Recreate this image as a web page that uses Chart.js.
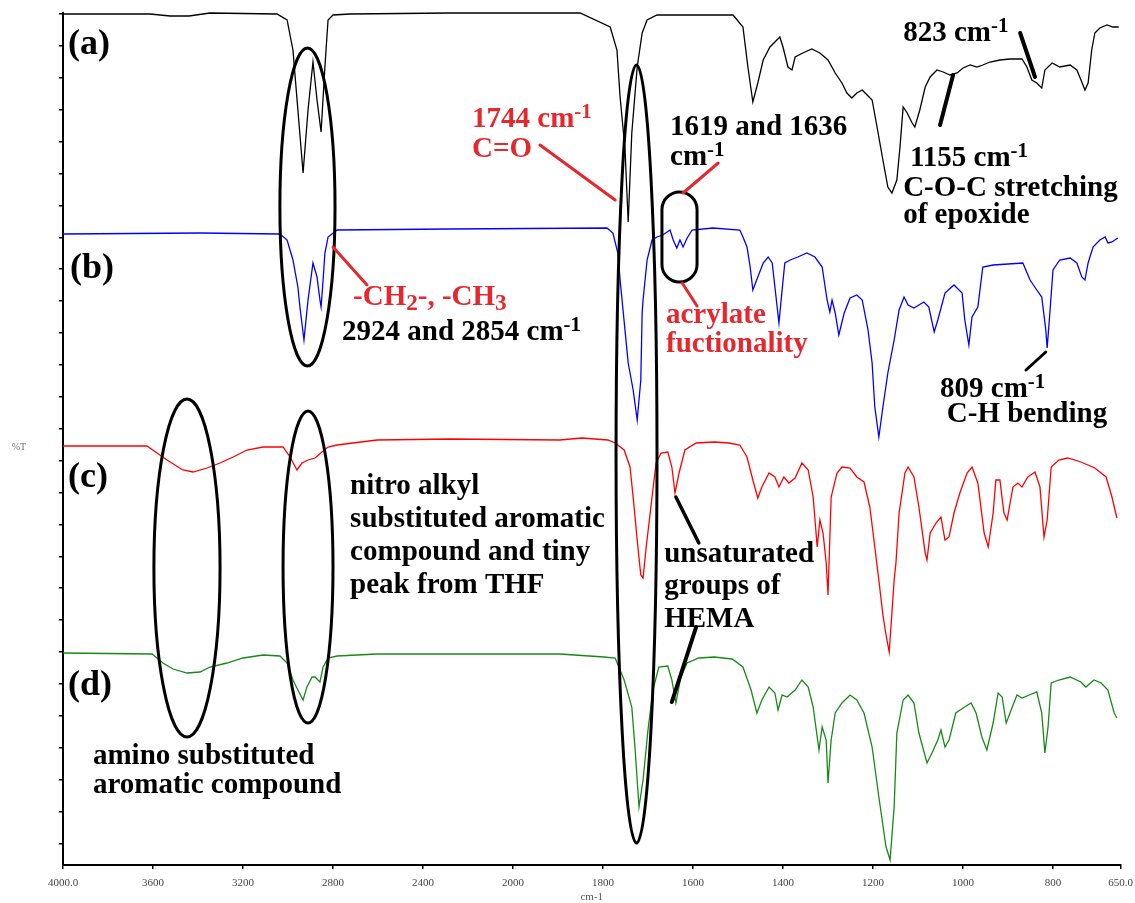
<!DOCTYPE html>
<html>
<head>
<meta charset="utf-8">
<script src="https://cdn.jsdelivr.net/npm/chart.js@4.4.1/dist/chart.umd.min.js"></script>
<style>
  html, body { margin: 0; padding: 0; background: #fff; }
  canvas { display: block; }
</style>
</head>
<body>
<canvas id="ftir" width="1135" height="903"></canvas>
<script>
// ================================
// Datos
// ================================
// eje x: numero de onda (cm-1), eje y: %T desplazado por muestra
const tickWn = [4000, 3600, 3200, 2800, 2400, 2000, 1800, 1600, 1400, 1200, 1000, 800, 650];
const tickLabels = ["4000.0", "3600", "3200", "2800", "2400", "2000", "1800", "1600", "1400", "1200", "1000", "800", "650.0"];

// (a)
const aWn = [4000,3613,3524,3440,3347,3049,3004,2978,2956,2933,2911,2889,2871,2853,2836,2822,2800,2724,2280,1851,1784,1769,1762,1751,1744,1736,1724,1713,1702,1680,1511,1489,1478,1467,1456,1444,1429,1407,1400,1389,1380,1373,1356,1336,1318,1300,1284,1269,1258,1247,1236,1224,1213,1202,1191,1178,1167,1158,1147,1140,1133,1124,1113,1107,1096,1084,1073,1058,1044,1029,1013,1000,984,969,956,940,918,896,869,858,847,836,825,818,802,785,762,747,736,729,722,714,707,696,680,667,654];
const aT = [85.1,85.1,84.9,84.9,85.2,85.1,84.5,81.5,75.5,69.2,75.5,80.3,76.5,73.3,79.8,84.5,85.0,85.1,85.2,85.2,83.8,81.5,76.8,71.5,64.3,73.2,79.8,83.2,84.5,85.0,85.0,83.8,79.8,76.3,78.2,80.5,81.8,82.8,81.8,79.8,79.5,80.8,81.2,81.6,81.2,80.5,79.2,78.2,77.2,76.7,77.2,77.5,77.0,76.5,73.8,70.5,67.8,67.2,68.5,71.8,75.8,75.2,74.2,73.8,75.5,77.8,78.8,79.5,79.3,79.0,79.2,79.7,80.0,79.8,80.0,80.3,80.5,80.6,80.6,79.8,78.5,78.2,77.7,79.5,80.2,79.8,80.0,79.5,78.3,77.5,78.2,81.5,83.2,83.7,84.0,83.8,83.8];

// (b)
const bWn = [4000,3391,3036,3004,2978,2956,2947,2929,2911,2889,2871,2858,2853,2844,2836,2822,2782,2280,1791,1778,1767,1762,1744,1733,1724,1716,1713,1711,1702,1691,1680,1667,1651,1644,1636,1629,1622,1613,1602,1556,1496,1489,1480,1473,1467,1456,1444,1433,1424,1418,1409,1402,1396,1384,1367,1347,1329,1313,1302,1296,1291,1284,1276,1264,1251,1236,1224,1211,1202,1196,1187,1178,1167,1153,1142,1131,1122,1109,1098,1087,1076,1064,1056,1040,1020,1002,996,987,980,967,956,933,867,851,836,825,816,813,807,800,785,762,747,736,729,722,711,696,684,678,669,656];
const bT = [63.1,63.2,63.1,62.5,60.5,57.8,55.8,52.5,56.5,60.2,58.8,56.5,55.8,58.5,61.2,62.8,63.5,63.6,63.7,63.2,61.2,58.5,50.2,47.5,44.5,48.5,55.2,56.5,60.5,62.5,62.8,63.0,63.5,62.5,61.7,62.5,61.8,62.7,63.5,63.7,63.5,62.8,61.8,59.8,57.5,58.8,60.2,60.8,60.2,57.8,54.2,57.5,60.2,60.5,60.8,61.2,60.8,59.8,56.5,55.3,56.5,55.2,53.0,55.2,56.7,57.0,56.5,53.5,50.2,45.8,42.8,45.8,49.2,52.5,55.5,56.8,56.0,55.7,56.0,56.3,55.8,53.3,54.5,57.2,58.0,57.2,54.5,52.0,54.8,55.8,59.8,60.0,60.2,58.5,57.5,56.8,53.5,51.7,55.2,59.5,60.5,60.7,60.2,58.8,58.5,60.2,61.8,62.5,62.8,62.2,62.3,62.7];

// (c)
const cWn = [4000,3627,3582,3538,3467,3422,3360,3302,3244,3182,3111,3022,2991,2960,2938,2911,2880,2849,2822,2782,2711,2604,2280,1896,1847,1789,1773,1753,1740,1733,1724,1716,1711,1704,1691,1682,1671,1656,1647,1640,1631,1618,1593,1553,1520,1496,1480,1467,1456,1447,1431,1418,1409,1398,1387,1373,1358,1344,1333,1324,1318,1311,1304,1300,1293,1280,1269,1251,1236,1220,1207,1196,1187,1178,1171,1164,1158,1153,1149,1142,1129,1122,1109,1098,1084,1080,1073,1060,1049,1040,1031,1020,1007,991,980,967,953,944,933,927,918,909,902,889,878,869,856,840,829,820,813,804,787,767,738,707,682,669,658];
const cT = [41.9,41.9,41.2,40.5,39.5,39.3,39.7,40.2,40.8,41.5,41.8,41.8,40.8,39.5,40.2,40.5,40.7,41.3,41.8,42.0,42.2,42.5,42.6,42.5,42.7,42.5,42.2,41.5,39.8,36.8,32.5,29.0,28.7,31.8,36.8,40.2,41.2,41.3,39.8,37.2,39.2,41.5,42.2,42.3,42.2,42.0,40.8,38.5,36.7,37.8,39.2,38.8,37.8,38.8,38.2,38.7,40.2,39.5,36.8,31.8,34.5,33.2,30.2,27.0,36.8,39.2,39.8,39.7,38.8,38.3,35.8,31.8,28.5,25.0,23.0,21.3,25.2,28.5,30.2,35.2,39.2,39.8,38.8,35.8,31.2,30.5,33.2,34.2,34.8,32.5,32.8,35.2,37.2,39.2,39.8,38.2,33.2,31.8,35.2,38.5,38.5,35.2,34.5,37.8,38.2,37.8,38.8,39.3,37.8,32.8,34.5,39.8,40.5,40.7,40.3,39.7,38.8,36.8,34.7];

// (d)
const dWn = [4000,3604,3556,3511,3449,3391,3347,3271,3200,3111,3036,3004,2978,2956,2933,2916,2893,2880,2858,2844,2822,2782,2604,1896,1798,1773,1753,1736,1729,1720,1711,1700,1689,1676,1656,1647,1638,1627,1613,1587,1553,1513,1489,1471,1458,1447,1431,1418,1411,1402,1391,1373,1358,1344,1333,1320,1313,1304,1300,1293,1284,1269,1251,1236,1220,1202,1187,1171,1162,1153,1147,1133,1122,1109,1098,1080,1069,1056,1049,1040,1031,1016,1000,982,971,958,947,933,922,913,904,893,880,869,853,836,825,818,811,804,787,762,738,727,709,693,678,664,658];
const dT = [21.2,21.1,20.2,19.6,19.2,19.3,19.8,20.2,20.7,21.0,20.9,20.2,18.5,17.5,16.5,17.8,18.8,18.8,18.3,19.8,20.7,20.9,21.1,21.1,20.8,20.7,18.5,15.8,11.8,5.8,8.5,13.5,17.5,19.8,19.9,18.5,16.2,18.8,20.2,20.7,20.8,20.6,19.8,17.5,15.2,16.5,17.8,17.2,15.5,17.0,16.8,17.5,18.5,17.8,15.8,11.5,13.8,12.5,8.2,12.5,15.2,16.2,17.0,16.5,15.2,11.8,6.8,1.8,0.5,5.8,13.2,16.5,17.0,16.2,13.2,10.2,11.2,12.5,13.5,11.8,12.5,15.2,15.7,16.2,15.2,12.8,11.5,14.2,17.2,16.8,14.2,15.5,17.0,16.7,17.0,17.3,15.2,11.2,13.8,18.2,18.5,18.8,18.3,17.8,18.5,18.2,17.5,15.2,14.7];

// ================================
// Anotaciones (en unidades de datos: cm-1, %T)
// ================================
// [wn izq, wn der, %T arriba, %T abajo, forma]
const rings = [
  [3036, 2791, 81.7, 49.9, "oval"],
  [1771, 1680, 80.0, 2.2, "oval"],
  [1669, 1591, 67.3, 58.3, "pill"],
  [3596, 3302, 46.6, 12.8, "oval"],
  [3022, 2800, 45.4, 14.2, "oval"]
];
// [wn1, %T1, wn2, %T2, color, grosor]
const pointers = [
  [1940, 72.0, 1773, 66.5, "#e4282e", 3],
  [1544, 70.2, 1622, 67.2, "#e4282e", 3],
  [1624, 58.2, 1591, 55.9, "#e4282e", 3],
  [2800, 61.8, 2649, 58.0, "#e4282e", 3],
  [873, 83.2, 840, 78.8, "#000", 4],
  [1051, 74.0, 1022, 79.0, "#000", 4],
  [816, 51.3, 860, 49.5, "#000", 3],
  [1638, 36.8, 1587, 32.2, "#000", 3.5],
  [1593, 23.8, 1647, 16.3, "#000", 4]
];
// [texto, wn, %T (linea base), color, tamano]
const notes = [
  ["(a)", 3978, 81.1, "#000", 36],
  ["(b)", 3969, 58.7, "#000", 36],
  ["(c)", 3978, 37.8, "#000", 36],
  ["(d)", 3978, 17.0, "#000", 36],
  ["1744 cm^{-1}", 2182, 73.8, "#e4282e", 29],
  ["C=O", 2182, 70.8, "#e4282e", 29],
  ["1619 and 1636", 1651, 73.0, "#000", 29],
  ["cm^{-1}", 1651, 70.0, "#000", 29],
  ["823 cm^{-1}", 1133, 82.4, "#000", 29],
  ["1155 cm^{-1}", 1118, 69.9, "#000", 29],
  ["C-O-C stretching", 1133, 66.9, "#000", 29],
  ["of epoxide", 1133, 64.2, "#000", 29],
  ["-CH_{2}-, -CH_{3}", 2711, 56.0, "#e4282e", 29],
  ["2924 and 2854 cm^{-1}", 2760, 52.5, "#000", 29],
  ["acrylate", 1660, 54.2, "#e4282e", 29],
  ["fuctionality", 1660, 51.3, "#e4282e", 29],
  ["809 cm^{-1}", 1051, 46.8, "#000", 29],
  ["C-H bending", 1036, 44.3, "#000", 29],
  ["nitro alkyl", 2724, 37.1, "#000", 29],
  ["substituted aromatic", 2724, 33.8, "#000", 29],
  ["compound and tiny", 2724, 30.5, "#000", 29],
  ["peak from THF", 2724, 27.2, "#000", 29],
  ["unsaturated", 1664, 30.3, "#000", 29],
  ["groups of", 1664, 27.1, "#000", 29],
  ["HEMA", 1664, 23.8, "#000", 29],
  ["amino substituted", 3867, 10.1, "#000", 29],
  ["aromatic compound", 3867, 7.2, "#000", 29]
];

// ================================
// Utilidades
// ================================
// eje partido: 4000-2000 comprimido a la mitad, 2000-650 a escala completa
function toPos(wn) {
  return wn >= 2000 ? (4000 - wn) / 2 : 1000 + (2000 - wn);
}
function zip(wn, t) {
  const n = Math.min(wn.length, t.length);
  const out = [];
  for (let i = 0; i < n; i++) out.push({ x: toPos(wn[i]), y: t[i] });
  return out;
}
const SERIF = '"Liberation Serif", "Times New Roman", "DejaVu Serif", serif';

function drawRich(ctx, str, x, yb, size, color) {
  const parts = str.split(/(\^\{[^}]*\}|_\{[^}]*\})/).filter(Boolean);
  let cx = x;
  ctx.fillStyle = color;
  for (const p of parts) {
    let t = p, s = size, dy = 0;
    if (p.startsWith("^{")) { t = p.slice(2, -1); s = size * 0.72; dy = -size * 0.32; }
    else if (p.startsWith("_{")) { t = p.slice(2, -1); s = size * 0.8; dy = size * 0.17; }
    ctx.font = `bold ${s}px ${SERIF}`;
    ctx.fillText(t, cx, yb + dy);
    cx += ctx.measureText(t).width;
  }
}

const annotate = {
  id: "annotate",
  afterDatasetsDraw(chart) {
    const { ctx, scales: { x, y } } = chart;
    const px = wn => x.getPixelForValue(toPos(wn));
    const py = v => y.getPixelForValue(v);
    ctx.save();

    // elipses
    ctx.strokeStyle = "#000";
    ctx.lineWidth = 3;
    rings.forEach(([w1, w2, v1, v2, shape]) => {
      const x1 = px(w1), x2 = px(w2), y1 = py(v1), y2 = py(v2);
      ctx.beginPath();
      if (shape === "pill") {
        const r = (x2 - x1) / 2;
        ctx.roundRect(x1, y1, x2 - x1, y2 - y1, r);
      } else {
        ctx.ellipse((x1 + x2) / 2, (y1 + y2) / 2, (x2 - x1) / 2, (y2 - y1) / 2, 0, 0, Math.PI * 2);
      }
      ctx.stroke();
    });

    // lineas guia
    ctx.lineCap = "round";
    pointers.forEach(([w1, v1, w2, v2, color, lw]) => {
      ctx.strokeStyle = color;
      ctx.lineWidth = lw;
      ctx.beginPath();
      ctx.moveTo(px(w1), py(v1));
      ctx.lineTo(px(w2), py(v2));
      ctx.stroke();
    });

    // textos
    ctx.textAlign = "left";
    ctx.textBaseline = "alphabetic";
    notes.forEach(([t, wn, v, color, size]) => drawRich(ctx, t, px(wn), py(v), size, color));

    // etiqueta %T
    ctx.font = `10px ${SERIF}`;
    ctx.fillStyle = "#777";
    ctx.textAlign = "center";
    ctx.textBaseline = "middle";
    ctx.fillText("%T", 19, py(41.8));
    ctx.restore();
  }
};

// ================================
// Grafica
// ================================
const yTop = 85.1, yStep = 3.19;
const lineStyle = { pointRadius: 0, borderWidth: 1.3, tension: 0, fill: false, clip: 4 };

new Chart(document.getElementById("ftir"), {
  type: "line",
  data: {
    datasets: [
      { label: "(a)", data: zip(aWn, aT), borderColor: "#000000", ...lineStyle },
      { label: "(b)", data: zip(bWn, bT), borderColor: "#0000ff", ...lineStyle },
      { label: "(c)", data: zip(cWn, cT), borderColor: "#ff0000", ...lineStyle },
      { label: "(d)", data: zip(dWn, dT), borderColor: "#168a16", ...lineStyle }
    ]
  },
  options: {
    responsive: false,
    animation: false,
    devicePixelRatio: 1,
    layout: { padding: { top: 13, right: 14.5, left: 0, bottom: 0 } },
    plugins: { legend: { display: false }, tooltip: { enabled: false } },
    scales: {
      x: {
        type: "linear",
        min: 0,
        max: toPos(650),
        afterBuildTicks(s) { s.ticks = tickWn.map(w => ({ value: toPos(w) })); },
        afterFit(s) { s.height = 38; s.paddingLeft = 0; s.paddingRight = 0; },
        ticks: {
          autoSkip: false, maxRotation: 0, padding: 8,
          color: "#444", font: { family: SERIF, size: 11 },
          callback: (v, i) => tickLabels[i]
        },
        grid: { drawOnChartArea: false, drawTicks: true, tickLength: 4, color: "#000", lineWidth: 1.5 },
        border: { display: true, color: "#000", width: 2 },
        title: { display: true, text: "cm-1", color: "#555", font: { family: SERIF, size: 11 }, padding: { top: 0, bottom: -1 } }
      },
      y: {
        min: 0,
        max: 85.2,
        afterBuildTicks(s) {
          const t = [];
          for (let v = yTop; v > 0; v -= yStep) t.push({ value: v });
          s.ticks = t;
        },
        afterFit(s) { s.width = 63; },
        ticks: { display: false },
        grid: { drawOnChartArea: false, drawTicks: true, tickLength: 4, color: "#000", lineWidth: 1.5 },
        border: { display: true, color: "#000", width: 2 }
      }
    }
  },
  plugins: [annotate]
});
</script>
</body>
</html>
